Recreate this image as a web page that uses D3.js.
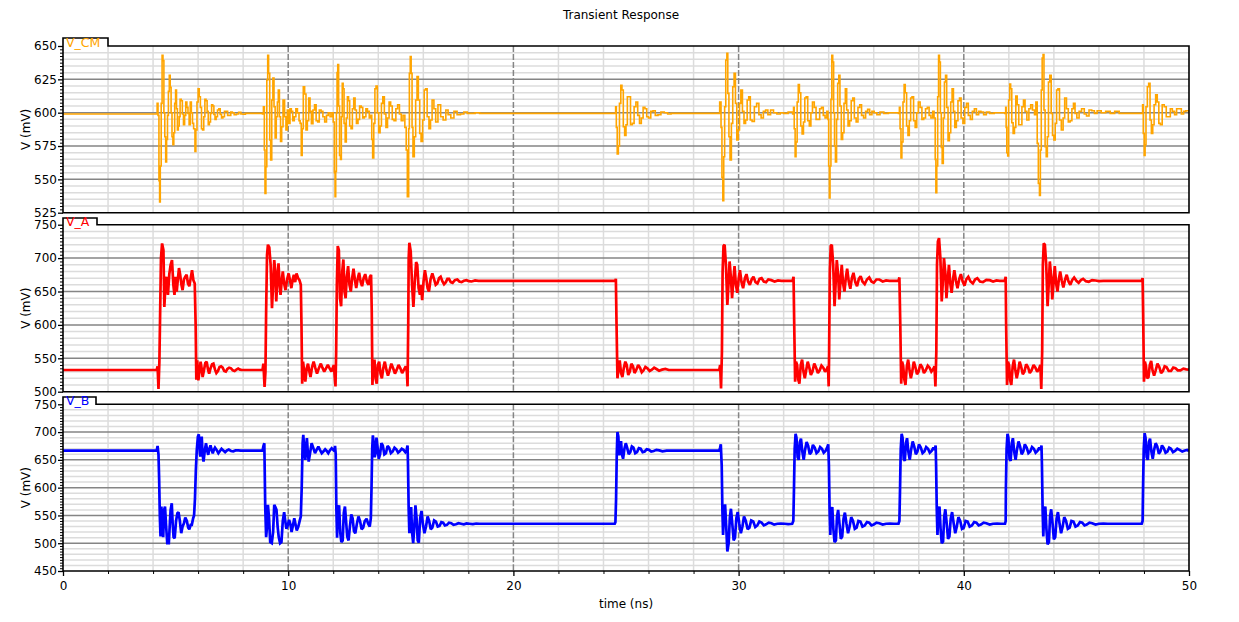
<!DOCTYPE html>
<html><head><meta charset="utf-8">
<script src="https://cdn.jsdelivr.net/npm/d3@7"></script>
<style>body{margin:0;background:#fff}svg{display:block}text{font-family:"DejaVu Sans",sans-serif}</style>
</head><body><svg id="c" width="1239" height="622"></svg>
<script>
const title = "Transient Response";
const xLabel = "time (ns)";
const yLabel = "V (mV)";
const xDomain = [0, 50];
const xTicks = [0, 10, 20, 30, 40, 50];
const xMinorStep = 2;
const seriesNames = ["V_CM", "V_A", "V_B"];
const seriesColors = ["#ffa500", "#ff0000", "#0000ff"];
const yDomains = [[525, 650], [500, 750], [450, 750]];
const yTicks = [[525, 550, 575, 600, 625, 650], [500, 550, 600, 650, 700, 750], [450, 500, 550, 600, 650, 700, 750]];
const yGridStep = [5, 10, 10];

// time (ns), value (mV) pairs
const vCM = [
0,599, 4.16,599, 4.18,607, 4.22,598, 4.26,549, 4.29,533, 4.32,560, 4.36,607, 4.4,643, 4.44,639, 4.48,600, 4.52,582, 4.56,563, 4.6,580, 4.64,598, 4.68,616, 4.72,628, 4.76,619, 4.8,600, 4.84,582, 4.88,576, 4.92,585, 4.96,607, 5.0,617, 5.04,603, 5.08,587, 5.12,590, 5.16,597, 5.2,610, 5.25,609, 5.3,599, 5.35,591, 5.4,598, 5.45,608, 5.5,604, 5.55,599.5, 5.6,591, 5.65,608, 5.7,600, 5.75,592, 5.8,588, 5.86,571, 5.9,587, 5.95,608, 6.0,618, 6.05,612, 6.1,604, 6.15,588, 6.2,587, 6.25,597, 6.3,610, 6.35,609, 6.4,601, 6.45,591, 6.5,593, 6.55,599.5, 6.6,606, 6.65,605, 6.7,598.7, 6.75,595, 6.8,597, 6.86,602, 6.92,603, 6.98,598.7, 7.04,596, 7.1,597, 7.17,601, 7.24,601, 7.31,598, 7.38,598, 7.45,600.5, 7.52,600, 7.6,598.5, 7.7,599, 7.8,600.3, 7.9,599, 8.0,598.8, 8.1,599.5, 8.86,599,
8.9,604.5, 8.94,572, 8.97,539.5, 9.01,559.5, 9.05,624.5, 9.09,643, 9.13,629.5, 9.18,579.5, 9.22,564.5, 9.27,609.5, 9.32,626, 9.37,604.5, 9.42,581, 9.47,597, 9.52,608, 9.56,617, 9.61,597, 9.66,578.5, 9.71,589.5, 9.77,609.5, 9.84,597, 9.9,587, 9.96,602, 10.02,592, 10.08,603, 10.14,601, 10.2,594, 10.27,597, 10.34,603, 10.41,600, 10.48,594, 10.53,592, 10.58,568, 10.62,588, 10.67,619.5, 10.73,614, 10.79,587, 10.85,594, 10.91,611, 10.97,601, 11.03,591.7, 11.1,602, 11.17,606, 11.24,594, 11.31,593, 11.38,602, 11.46,601, 11.54,597, 11.62,593, 11.7,598, 11.78,600, 11.86,597, 11.94,600, 12.0,593, 12.05,555,
12.08,537, 12.11,556, 12.14,600, 12.17,630, 12.2,636, 12.24,605, 12.28,568, 12.32,565, 12.36,597, 12.4,622, 12.44,618, 12.48,592, 12.53,578, 12.58,596, 12.63,612, 12.68,609, 12.73,590, 12.79,588, 12.85,603, 12.91,611, 12.97,602, 13.03,592, 13.1,595, 13.17,605, 13.24,604, 13.31,596, 13.38,597, 13.45,603, 13.52,601, 13.6,596, 13.66,598, 13.71,580, 13.75,566, 13.8,592, 13.85,618, 13.9,620, 13.96,600, 14.02,585, 14.08,590, 14.14,607, 14.2,612, 14.27,599, 14.34,589, 14.41,596, 14.48,608, 14.55,605, 14.62,595, 14.7,594, 14.78,603, 14.86,606, 14.94,599, 15.02,594, 15.1,598, 15.18,589, 15.24,572, 15.29,537,
15.35,588, 15.38,629.5, 15.42,642, 15.46,629.5, 15.5,589, 15.54,567, 15.6,582, 15.66,609.5, 15.72,627, 15.78,609.5, 15.84,584.5, 15.9,578.5, 15.97,594.5, 16.04,617, 16.1,618, 16.17,597, 16.25,588, 16.32,594.5, 16.39,609.5, 16.47,603, 16.55,593, 16.65,606, 16.77,597, 16.88,594.5, 17.0,602, 17.1,598.5, 17.22,596, 17.36,601, 17.5,598.5, 17.65,599, 17.8,600.5, 17.95,599.5, 18.1,599.5, 18.3,600, 18.5,599.5, 24.5,599.5,
24.54,604.5, 24.57,589, 24.61,569, 24.66,575, 24.71,607, 24.77,620.5, 24.82,617, 24.88,589.5, 24.94,583, 25.0,591, 25.06,612, 25.13,612, 25.2,591, 25.28,592, 25.36,604.5, 25.44,608, 25.52,598, 25.6,592, 25.68,596, 25.76,604, 25.84,603, 25.92,597, 26.0,596, 26.1,601, 26.2,601.5, 26.3,598, 26.42,598.5, 26.55,600.5, 26.7,600, 26.85,599, 27.0,599.5, 29.14,599.5,
29.16,608, 29.22,589, 29.26,551.5, 29.3,534, 29.34,567, 29.38,604.5, 29.43,639.5, 29.48,644.5, 29.52,614.5, 29.57,582, 29.62,564.5, 29.68,592, 29.74,619.5, 29.8,629.5, 29.86,607, 29.92,579.5, 29.98,587, 30.04,607, 30.1,617, 30.17,601, 30.24,592, 30.31,594.5, 30.38,609.5, 30.45,612, 30.52,594.5, 30.6,593.5, 30.7,604.5, 30.8,607, 30.9,598.5, 31.0,596, 31.1,601, 31.2,602, 31.3,598.5, 31.42,602, 31.55,600, 31.7,599, 31.85,600, 32.0,599.5, 32.2,600.5, 32.4,599, 32.44,604,
32.47,588, 32.51,567, 32.55,578, 32.6,608, 32.65,621, 32.7,615, 32.76,590, 32.82,584, 32.88,593, 32.94,611, 33.0,612, 33.07,594, 33.14,590, 33.21,600, 33.28,608, 33.36,604, 33.44,595, 33.52,595, 33.6,603, 33.68,604, 33.76,598, 33.84,596, 33.92,601, 33.97,595, 34.0,560,
34.03,536, 34.06,560, 34.1,610, 34.14,643, 34.18,638, 34.22,600, 34.26,575, 34.3,563, 34.35,595, 34.4,622, 34.45,628, 34.5,605, 34.56,580, 34.62,585, 34.68,607, 34.74,618, 34.8,602, 34.86,590, 34.93,594, 35.0,609, 35.07,611, 35.14,596, 35.22,593, 35.3,604, 35.38,606, 35.46,598, 35.55,596, 35.64,601, 35.73,602.5, 35.82,598.5, 35.92,601, 36.02,600, 36.14,598.5, 36.28,600.5, 36.45,599.5, 36.65,600, 37.1,599.5, 37.14,604,
37.17,588, 37.21,566, 37.25,578, 37.3,608, 37.35,621, 37.4,615, 37.46,590, 37.52,583, 37.58,594, 37.64,611, 37.7,612, 37.77,594, 37.84,589, 37.91,600, 37.98,608, 38.06,604, 38.14,595, 38.22,596, 38.3,603, 38.38,604, 38.46,598, 38.54,596, 38.62,601, 38.68,596, 38.73,565,
38.76,540, 38.8,560, 38.84,612, 38.88,643, 38.92,638, 38.96,600, 39.0,574, 39.04,562, 39.09,596, 39.14,623, 39.19,628, 39.24,604, 39.3,579, 39.36,585, 39.42,608, 39.48,618, 39.54,601, 39.6,589, 39.67,594, 39.74,609, 39.81,611, 39.88,596, 39.96,592, 40.04,604, 40.12,607, 40.2,598, 40.29,595, 40.38,601, 40.47,603, 40.56,598.5, 40.66,601, 40.76,600.5, 40.88,598.5, 41.0,600.5, 41.15,599.5, 41.35,600, 41.82,599.5, 41.86,604,
41.88,589, 41.91,570, 41.95,567.5, 41.99,609.5, 42.04,621.5, 42.08,618, 42.13,592.5, 42.19,584.5, 42.25,589, 42.31,612.5, 42.37,606, 42.44,591, 42.51,591, 42.58,604.5, 42.65,609.5, 42.72,601, 42.8,594.5, 42.89,603, 42.97,606, 43.05,602, 43.14,598.5, 43.2,608, 43.26,577, 43.31,547, 43.36,538, 43.4,572, 43.44,617, 43.48,641, 43.52,643.5, 43.56,602, 43.61,574.5, 43.66,567, 43.71,582, 43.76,623, 43.82,628, 43.88,599.5, 43.94,583, 44.0,579.5, 44.06,592, 44.12,617, 44.18,618, 44.25,594.5, 44.33,587, 44.41,596, 44.48,611, 44.56,603, 44.64,593, 44.72,594, 44.8,603, 44.87,607, 44.94,599.5, 45.02,596, 45.12,601, 45.23,603, 45.35,599, 45.45,597.5, 45.56,602, 45.68,601.5, 45.8,599.5, 45.92,601.5, 46.1,600, 46.3,601, 46.5,599.5, 46.7,601, 46.9,599.5, 47.9,599.5,
47.94,606, 47.97,584.5, 48.01,568, 48.05,576, 48.09,604.5, 48.15,619.5, 48.21,622, 48.27,594.5, 48.33,584.5, 48.39,591, 48.45,606, 48.52,613.5, 48.59,608, 48.66,592, 48.73,591, 48.81,606, 48.9,604.5, 48.99,597, 49.08,597, 49.17,603, 49.26,601, 49.36,598.5, 49.45,603, 49.55,603, 49.66,599, 49.76,601, 49.86,601.5, 50,600
];

const vA = [
0,532.5, 4.16,532.5, 4.2,538, 4.24,504, 4.28,545, 4.31,610, 4.35,700, 4.4,722, 4.46,712, 4.5,627, 4.55,660, 4.6,672, 4.66,645, 4.72,676, 4.78,690, 4.84,697, 4.9,660, 4.95,645, 5.0,672, 5.05,650, 5.1,668, 5.15,685, 5.2,676, 5.26,660, 5.31,652, 5.37,668, 5.43,672, 5.49,675, 5.55,662, 5.61,658, 5.67,670, 5.73,682, 5.79,667, 5.85,662, 5.89,600, 5.92,518, 5.96,547, 6.01,517, 6.06,530, 6.11,545, 6.16,534, 6.2,522, 6.26,532, 6.32,543, 6.38,545, 6.44,533, 6.49,527, 6.55,535, 6.62,541, 6.68,542, 6.75,533, 6.81,528, 6.88,531, 6.95,537, 7.02,538, 7.09,536, 7.16,531, 7.23,530, 7.3,534, 7.38,536, 7.46,535, 7.54,532, 7.62,531, 7.7,533, 7.78,534.5, 7.86,533, 7.94,532.5, 8.86,532.5,
8.9,542, 8.95,507, 8.99,530, 9.02,620, 9.06,705, 9.1,720, 9.16,716, 9.22,690, 9.28,625, 9.33,660, 9.38,697, 9.43,678, 9.47,635, 9.52,670, 9.57,692, 9.62,660, 9.66,645, 9.71,665, 9.76,680, 9.82,662, 9.88,652, 9.95,668, 10.02,677, 10.09,665, 10.14,655, 10.2,668, 10.25,675, 10.31,664, 10.37,677, 10.44,670, 10.5,667, 10.56,660, 10.59,600, 10.62,512, 10.66,545, 10.71,530, 10.76,515, 10.82,535, 10.88,542, 10.94,530, 10.99,522, 11.06,537, 11.13,545, 11.2,536, 11.28,527, 11.36,535, 11.45,542, 11.52,536, 11.6,530, 11.68,535, 11.76,540, 11.84,535, 11.92,530, 11.98,536, 12.03,540, 12.07,520, 12.1,508,
12.13,560, 12.16,660, 12.2,718, 12.25,712, 12.3,640, 12.35,628, 12.4,680, 12.45,698, 12.5,650, 12.55,640, 12.6,672, 12.66,688, 12.72,660, 12.78,650, 12.84,670, 12.9,684, 12.96,668, 13.02,655, 13.08,668, 13.15,678, 13.22,664, 13.28,658, 13.35,670, 13.42,676, 13.5,664, 13.57,660, 13.63,672, 13.68,675, 13.71,620, 13.74,510, 13.78,540, 13.83,548, 13.88,520, 13.93,512, 13.98,540, 14.04,545, 14.1,527, 14.16,520, 14.22,535, 14.29,545, 14.36,533, 14.43,524, 14.5,532, 14.58,542, 14.66,535, 14.74,527, 14.82,533, 14.9,540, 14.98,535, 15.06,528, 15.14,533, 15.22,538, 15.27,530, 15.3,508,
15.33,600, 15.35,700, 15.38,723, 15.44,710, 15.5,660, 15.56,627, 15.62,665, 15.68,694, 15.73,690, 15.79,655, 15.85,645, 15.9,660, 15.95,637, 16.01,665, 16.07,682, 16.13,670, 16.19,655, 16.25,650, 16.32,668, 16.4,677, 16.48,668, 16.55,660, 16.62,662, 16.7,670, 16.77,672, 16.85,665, 16.92,661, 17.0,664, 17.07,669, 17.14,669, 17.22,664, 17.3,663, 17.4,667, 17.51,668, 17.6,665, 17.7,664, 17.8,666, 17.92,667, 18.03,665.5, 18.14,665, 18.3,666.5, 18.45,666, 24.52,666, 24.55,669,
24.58,600, 24.62,520, 24.67,535, 24.72,547, 24.78,528, 24.84,522, 24.9,535, 24.97,545, 25.03,540, 25.1,525, 25.17,530, 25.24,542, 25.31,538, 25.38,528, 25.46,533, 25.54,540, 25.62,536, 25.7,529, 25.78,532, 25.86,537, 25.95,535, 26.05,531, 26.15,533, 26.25,536, 26.35,534, 26.47,531.5, 26.6,533, 26.75,534, 26.9,532.5, 29.14,532.5, 29.18,540, 29.22,505,
29.26,560, 29.29,680, 29.33,718, 29.38,720, 29.44,688, 29.5,630, 29.55,660, 29.6,695, 29.66,670, 29.71,640, 29.77,668, 29.82,688, 29.88,660, 29.94,648, 30.0,668, 30.06,682, 30.13,664, 30.2,655, 30.28,670, 30.35,676, 30.42,665, 30.5,660, 30.58,668, 30.66,672, 30.75,664, 30.84,662, 30.93,669, 31.02,670, 31.12,665, 31.22,664, 31.32,668, 31.45,667, 31.6,665, 31.75,666.5, 31.9,666, 32.4,666, 32.44,672,
32.47,600, 32.51,515, 32.55,545, 32.6,540, 32.65,518, 32.7,512, 32.76,540, 32.82,548, 32.88,530, 32.94,520, 33.0,532, 33.07,545, 33.14,536, 33.21,525, 33.28,530, 33.36,542, 33.44,536, 33.52,528, 33.6,532, 33.68,539, 33.76,536, 33.84,530, 33.92,534, 33.97,538, 34.0,508,
34.02,560, 34.05,680, 34.09,718, 34.14,720, 34.2,690, 34.26,628, 34.31,662, 34.36,697, 34.42,675, 34.47,638, 34.53,668, 34.58,690, 34.64,662, 34.7,650, 34.76,670, 34.82,684, 34.89,665, 34.96,654, 35.03,670, 35.1,678, 35.18,664, 35.26,658, 35.34,669, 35.42,673, 35.5,665, 35.6,661, 35.7,668, 35.8,671, 35.9,665, 36.0,663, 36.12,668, 36.25,668, 36.4,665, 36.55,666.5, 36.7,666, 37.1,666, 37.14,671,
37.18,600, 37.22,512, 37.26,545, 37.31,538, 37.36,518, 37.41,510, 37.47,538, 37.53,548, 37.59,532, 37.65,520, 37.71,530, 37.78,545, 37.85,537, 37.92,526, 37.99,530, 38.07,541, 38.15,537, 38.23,528, 38.31,532, 38.4,539, 38.48,536, 38.56,530, 38.63,533, 38.7,538, 38.74,508,
38.78,560, 38.81,690, 38.85,725, 38.9,730, 38.96,700, 39.02,635, 39.07,665, 39.12,700, 39.18,678, 39.23,640, 39.29,668, 39.34,690, 39.4,662, 39.46,648, 39.52,668, 39.58,682, 39.65,666, 39.72,655, 39.8,669, 39.87,676, 39.95,665, 40.03,659, 40.11,668, 40.2,672, 40.3,665, 40.4,662, 40.5,668, 40.6,670, 40.72,665, 40.85,664, 41.0,667.5, 41.15,667, 41.3,665, 41.45,666.5, 41.6,666, 41.82,666, 41.86,672,
41.88,600, 41.92,510, 41.96,545, 42.01,540, 42.06,517, 42.11,510, 42.17,538, 42.23,548, 42.29,532, 42.35,520, 42.41,530, 42.48,545, 42.55,537, 42.62,526, 42.69,530, 42.77,541, 42.85,537, 42.93,528, 43.01,532, 43.1,540, 43.18,536, 43.26,530, 43.34,534, 43.4,540, 43.44,504,
43.48,560, 43.51,690, 43.55,722, 43.6,720, 43.66,690, 43.72,628, 43.77,660, 43.82,695, 43.88,672, 43.93,638, 43.99,666, 44.04,688, 44.1,662, 44.16,650, 44.22,668, 44.28,680, 44.35,666, 44.42,656, 44.5,668, 44.57,675, 44.65,665, 44.73,660, 44.81,667, 44.9,671, 45.0,666, 45.1,663, 45.2,667, 45.3,669, 45.42,665.5, 45.55,664.5, 45.7,667, 45.85,666.5, 46.0,665.5, 46.2,666, 47.9,666, 47.94,670,
47.97,600, 48.0,515, 48.04,545, 48.09,538, 48.14,520, 48.2,522, 48.26,540, 48.32,546, 48.38,532, 48.45,524, 48.52,532, 48.6,542, 48.68,537, 48.76,528, 48.84,531, 48.92,538, 49.0,537, 49.1,531, 49.2,531, 49.3,536, 49.4,535, 49.5,532, 49.62,532, 49.75,534.5, 49.88,533.5, 50,533
];

const vB = [
0,666.5, 4.16,666.5, 4.2,675, 4.24,660, 4.27,614, 4.3,548, 4.33,512, 4.37,566, 4.41,520, 4.45,511, 4.49,560, 4.53,566, 4.58,530, 4.63,500, 4.7,500, 4.75,540, 4.78,560, 4.83,572, 4.87,535, 4.91,511, 4.96,509, 5.02,540, 5.08,554, 5.13,556, 5.19,540, 5.25,518, 5.31,530, 5.37,536, 5.43,546, 5.5,540, 5.56,528, 5.61,525, 5.67,533, 5.72,533, 5.78,545, 5.82,550, 5.86,580, 5.9,632, 5.94,667, 5.99,692, 6.03,696, 6.08,660, 6.11,656, 6.16,692, 6.2,660, 6.24,647, 6.3,668, 6.35,680, 6.41,665, 6.45,659, 6.5,670, 6.55,676, 6.6,668, 6.65,662, 6.7,668, 6.75,672, 6.82,668, 6.9,662, 6.97,666, 7.04,670, 7.12,667, 7.2,664, 7.28,667, 7.36,668.5, 7.46,666, 7.56,665.5, 7.66,667, 7.78,667, 7.9,666.5, 8.86,666.5,
8.9,675, 8.94,680, 8.98,566, 9.02,511, 9.06,530, 9.1,569, 9.15,545, 9.2,502, 9.27,500, 9.33,520, 9.38,569, 9.43,565, 9.48,560, 9.53,530, 9.58,511, 9.64,500, 9.7,502, 9.76,540, 9.82,556, 9.87,540, 9.92,526, 9.98,532, 10.04,542, 10.1,534, 10.15,520, 10.21,532, 10.27,545, 10.32,535, 10.38,523, 10.45,530, 10.52,542, 10.56,548, 10.6,600, 10.64,680, 10.67,695, 10.72,665, 10.76,650, 10.8,675, 10.83,689, 10.87,665, 10.91,647, 10.97,662, 11.04,680, 11.11,672, 11.19,662, 11.26,668, 11.34,674, 11.41,668, 11.49,662, 11.56,665, 11.64,669, 11.71,666, 11.78,662, 11.85,667, 11.93,671, 12.0,668, 12.05,666, 12.08,675,
12.11,660, 12.14,560, 12.17,510, 12.21,560, 12.26,568, 12.31,520, 12.36,502, 12.42,505, 12.47,555, 12.52,566, 12.57,540, 12.62,512, 12.68,505, 12.74,530, 12.8,552, 12.86,545, 12.92,522, 12.98,518, 13.05,535, 13.12,548, 13.19,540, 13.26,525, 13.33,528, 13.4,540, 13.48,544, 13.55,535, 13.62,530, 13.67,545, 13.7,600, 13.73,670, 13.76,694, 13.8,680, 13.84,655, 13.88,662, 13.92,690, 13.97,672, 14.02,652, 14.08,660, 14.14,680, 14.2,676, 14.27,660, 14.34,662, 14.41,675, 14.48,672, 14.56,662, 14.64,665, 14.72,672, 14.8,669, 14.88,663, 14.96,666, 15.04,670, 15.12,668, 15.2,664, 15.26,668, 15.3,676,
15.32,640, 15.35,560, 15.38,518, 15.42,540, 15.46,565, 15.5,520, 15.55,500, 15.6,530, 15.65,568, 15.7,545, 15.75,505, 15.8,501, 15.86,545, 15.92,558, 15.98,535, 16.05,518, 16.12,530, 16.19,548, 16.26,540, 16.33,525, 16.4,528, 16.48,541, 16.56,539, 16.64,530, 16.72,531, 16.8,538, 16.88,537, 16.96,532, 17.05,533, 17.14,537, 17.24,536, 17.34,533, 17.45,534, 17.56,536, 17.68,535, 17.8,534, 17.92,535.5, 18.05,535, 18.2,534.5, 18.35,535.5, 18.5,535, 24.5,535, 24.53,538,
24.56,580, 24.59,660, 24.62,700, 24.66,692, 24.7,658, 24.74,672, 24.78,684, 24.82,660, 24.87,652, 24.93,670, 24.99,680, 25.05,672, 25.12,660, 25.19,664, 25.26,674, 25.33,672, 25.41,662, 25.49,664, 25.57,671, 25.65,670, 25.74,664, 25.83,665, 25.92,669, 26.02,668, 26.12,665, 26.23,666, 26.35,668, 26.48,667, 26.62,665.5, 26.8,666.5, 29.14,666.5, 29.18,672, 29.21,678,
29.25,640, 29.28,560, 29.31,515, 29.35,548, 29.4,570, 29.45,530, 29.5,485, 29.56,500, 29.61,545, 29.66,562, 29.72,535, 29.78,505, 29.84,510, 29.9,545, 29.96,556, 30.03,535, 30.1,518, 30.17,530, 30.24,548, 30.32,540, 30.4,525, 30.48,528, 30.56,541, 30.65,539, 30.74,529, 30.83,532, 30.92,539, 31.02,537, 31.12,532, 31.22,534, 31.34,537, 31.46,536, 31.58,533.5, 31.72,535, 31.88,535.5, 32.05,535, 32.2,534.5, 32.38,535, 32.43,540,
32.46,600, 32.49,670, 32.53,697, 32.57,690, 32.62,655, 32.67,650, 32.72,682, 32.77,688, 32.83,665, 32.89,650, 32.95,668, 33.02,682, 33.09,675, 33.16,660, 33.23,664, 33.3,677, 33.38,672, 33.46,662, 33.54,665, 33.62,673, 33.7,670, 33.78,663, 33.86,666, 33.93,672, 33.98,678,
34.01,640, 34.04,560, 34.07,515, 34.11,555, 34.16,565, 34.21,525, 34.26,502, 34.32,505, 34.37,548, 34.42,560, 34.48,535, 34.54,508, 34.6,512, 34.66,544, 34.72,555, 34.79,535, 34.86,518, 34.93,530, 35.0,547, 35.08,540, 35.16,526, 35.24,528, 35.32,540, 35.41,539, 35.5,530, 35.6,532, 35.7,538, 35.8,537, 35.9,532, 36.0,533.5, 36.12,537, 36.25,536, 36.4,533.5, 36.55,535, 36.72,535.5, 36.9,535, 37.1,535, 37.14,540,
37.17,600, 37.2,670, 37.24,697, 37.28,690, 37.33,652, 37.38,648, 37.43,680, 37.48,689, 37.54,664, 37.6,650, 37.66,668, 37.73,683, 37.8,674, 37.87,660, 37.94,665, 38.01,678, 38.09,672, 38.17,662, 38.25,665, 38.33,673, 38.41,670, 38.49,663, 38.57,666, 38.65,672, 38.71,668, 38.75,676,
38.77,640, 38.8,560, 38.83,515, 38.87,555, 38.92,566, 38.97,525, 39.02,500, 39.08,503, 39.13,548, 39.18,561, 39.24,536, 39.3,508, 39.36,512, 39.42,544, 39.48,556, 39.55,536, 39.62,518, 39.69,530, 39.76,547, 39.84,540, 39.92,526, 40.0,528, 40.08,540, 40.17,539, 40.26,530, 40.36,532, 40.46,538, 40.56,537, 40.66,532, 40.76,533.5, 40.88,537, 41.0,536, 41.15,533.5, 41.3,535, 41.48,535.5, 41.65,535, 41.83,535, 41.86,540,
41.87,600, 41.9,670, 41.94,697, 41.98,690, 42.03,652, 42.08,648, 42.13,680, 42.18,689, 42.24,664, 42.3,650, 42.36,668, 42.43,683, 42.5,674, 42.57,660, 42.64,665, 42.71,678, 42.79,672, 42.87,662, 42.95,665, 43.03,673, 43.11,670, 43.19,663, 43.27,666, 43.35,672, 43.41,668, 43.45,676,
43.47,640, 43.5,560, 43.53,512, 43.57,555, 43.62,566, 43.67,525, 43.72,498, 43.78,502, 43.83,548, 43.88,561, 43.94,536, 44.0,507, 44.06,511, 44.12,544, 44.18,556, 44.25,536, 44.32,518, 44.39,530, 44.46,547, 44.54,540, 44.62,526, 44.7,528, 44.78,540, 44.87,539, 44.96,530, 45.06,532, 45.16,538, 45.26,537, 45.36,532, 45.46,533.5, 45.58,537, 45.7,536, 45.85,533.5, 46.0,535, 46.2,535.5, 46.4,535, 47.9,535, 47.94,540,
47.96,600, 47.99,670, 48.03,698, 48.07,690, 48.12,655, 48.17,650, 48.22,682, 48.27,688, 48.33,665, 48.39,652, 48.45,668, 48.52,680, 48.59,674, 48.66,661, 48.73,665, 48.8,676, 48.88,671, 48.96,663, 49.04,665, 49.12,672, 49.2,670, 49.29,664, 49.38,666, 49.48,670, 49.58,668, 49.7,665, 49.82,667, 49.92,668, 50,666
];

const seriesData = [vCM, vA, vB];
function pairs(a){const o=[];for(let i=0;i+1<a.length;i+=2)o.push([a[i],a[i+1]]);return o;}

const svg = d3.select("#c");
const L = 63, R = 1189;
const panels = [
  {top:46, bottom:212.7, tabTop:38, tabRight:108, lw:1.6, curve:d3.curveStepAfter},
  {top:224.7, bottom:391.7, tabTop:218, tabRight:97, lw:2.7, curve:d3.curveLinear},
  {top:404.3, bottom:571, tabTop:397, tabRight:96, lw:2.7, curve:d3.curveLinear}
];
const x = d3.scaleLinear().domain(xDomain).range([L, R]);
const xMinor = d3.range(xDomain[0], xDomain[1] + 0.001, xMinorStep);

svg.append("text").attr("x", 621).attr("y", 19).attr("text-anchor", "middle")
  .attr("font-size", 12).text(title);

const defs = svg.append("defs");

panels.forEach((p, i) => {
  const y = d3.scaleLinear().domain(yDomains[i]).range([p.bottom, p.top]);
  const g = svg.append("g");
  const [y0, y1] = yDomains[i];
  const gridMinor = d3.range(y0, y1 + 0.001, yGridStep[i]).filter(v => !yTicks[i].includes(v));
  g.selectAll(".hm").data(gridMinor).join("line")
    .attr("x1", L).attr("x2", R).attr("y1", d => y(d)).attr("y2", d => y(d))
    .attr("stroke", "#dcdcdc").attr("stroke-width", 1.5);
  g.selectAll(".vm").data(xMinor.filter(v => !xTicks.includes(v))).join("line")
    .attr("x1", d => x(d)).attr("x2", d => x(d)).attr("y1", p.top).attr("y2", p.bottom)
    .attr("stroke", "#dcdcdc").attr("stroke-width", 1.5);
  g.selectAll(".hM").data(yTicks[i].filter(v => v !== y0 && v !== y1)).join("line")
    .attr("x1", L).attr("x2", R).attr("y1", d => y(d)).attr("y2", d => y(d))
    .attr("stroke", "#858585").attr("stroke-width", 1.5);
  g.selectAll(".vM").data(xTicks.filter(v => v !== xDomain[0] && v !== xDomain[1])).join("line")
    .attr("x1", d => x(d)).attr("x2", d => x(d)).attr("y1", p.top).attr("y2", p.bottom)
    .attr("stroke", "#858585").attr("stroke-width", 1.5).attr("stroke-dasharray", "6,2");

  defs.append("clipPath").attr("id", "clip" + i).append("rect")
    .attr("x", L).attr("y", p.top).attr("width", R - L).attr("height", p.bottom - p.top);
  const line = d3.line().x(d => x(d[0])).y(d => y(d[1])).curve(p.curve);
  g.append("path").datum(pairs(seriesData[i])).attr("clip-path", "url(#clip" + i + ")")
    .attr("d", line).attr("fill", "none").attr("stroke", seriesColors[i])
    .attr("stroke-width", p.lw).attr("stroke-linejoin", "miter").attr("stroke-miterlimit", 2);

  g.append("path").attr("fill", "none").attr("stroke", "#000").attr("stroke-width", 1.6)
    .attr("d", `M${L},${p.bottom}L${L},${p.tabTop}L${p.tabRight},${p.tabTop}L${p.tabRight},${p.top}L${R},${p.top}L${R},${p.bottom}Z`);
  g.append("text").attr("x", 66).attr("y", p.top + 1).attr("font-size", 12.5)
    .attr("fill", seriesColors[i]).text(seriesNames[i]);

  const ax = g.append("g").attr("transform", `translate(${L},0)`)
    .call(d3.axisLeft(y).tickValues(yTicks[i]).tickSize(5).tickPadding(1).tickFormat(d3.format("d")));
  ax.select(".domain").remove();
  ax.selectAll("text").attr("font-size", 12).attr("font-family", "DejaVu Sans").attr("fill", "#000");
  ax.selectAll("line").attr("stroke-width", 1.3);
  const minorTicks = d3.range(y0, y1 + 0.001, yGridStep[i] / 2).filter(v => !yTicks[i].includes(v));
  const axm = g.append("g").attr("transform", `translate(${L},0)`)
    .call(d3.axisLeft(y).tickValues(minorTicks).tickSize(3).tickFormat(""));
  axm.select(".domain").remove();
  axm.selectAll("line").attr("stroke-width", 1);

  g.append("text").attr("transform", `translate(26,${(p.top + p.bottom) / 2}) rotate(-90)`)
    .attr("text-anchor", "middle").attr("dominant-baseline", "central")
    .attr("font-size", 12).text(yLabel);
});

const pb = panels[2].bottom;
const xa = svg.append("g").attr("transform", `translate(0,${pb})`)
  .call(d3.axisBottom(x).tickValues(xTicks).tickSize(5).tickPadding(5).tickFormat(d3.format("d")));
xa.select(".domain").remove();
xa.selectAll("text").attr("font-size", 12).attr("font-family", "DejaVu Sans").attr("fill", "#000");
xa.selectAll("line").attr("stroke-width", 1.3);
const xam = svg.append("g").attr("transform", `translate(0,${pb})`)
  .call(d3.axisBottom(x).tickValues(xMinor.filter(v => !xTicks.includes(v))).tickSize(3).tickFormat(""));
xam.select(".domain").remove();
svg.append("text").attr("x", (L + R) / 2).attr("y", 608).attr("text-anchor", "middle")
  .attr("font-size", 12).text(xLabel);
</script></body></html>
